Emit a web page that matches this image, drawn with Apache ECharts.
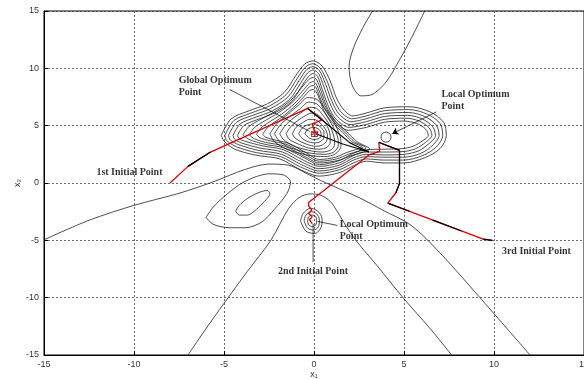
<!DOCTYPE html>
<html>
<head>
<meta charset="utf-8">
<script src="https://cdn.jsdelivr.net/npm/echarts@6/dist/echarts.min.js"></script>
<style>
html,body{margin:0;padding:0;background:#fff;}
#chart{width:584px;height:379px;}
</style>
</head>
<body>
<div id="chart"></div>
<script>
// axis ticks
var xTicks = [-15, -10, -5, 0, 5, 10, 15];
var yTicks = [-15, -10, -5, 0, 5, 10, 15];

// outer contours (both optima + upper lobe)
var g1 = [[-5.15,4.15],[-4.6,5.6],[-3.6,6.3],[-2.6,6.9],[-1.65,7.9],[-1.0,9.4],[-0.5,10.4],[-0.05,10.65],[0.45,10.2],[0.9,8.9],[1.25,7.4],[1.65,6.4],[2.15,5.85],[2.9,6.1],[3.9,6.55],[5.3,6.65],[6.45,6.2],[7.2,5.3],[7.35,4.15],[7.0,3.0],[6.15,2.2],[5.0,1.75],[3.9,1.75],[2.9,1.9],[2.2,1.5],[1.4,0.9],[0.3,0.6],[-0.8,1.2],[-1.9,2.1],[-3.3,2.45],[-4.4,2.95],[-5.0,3.65],[-5.15,4.15]];
var g2 = [[-4.95,4.15],[-4.45,5.45],[-3.5,6.1],[-2.5,6.7],[-1.55,7.7],[-0.9,9.2],[-0.45,10.15],[-0.05,10.4],[0.35,10.0],[0.75,8.8],[1.1,7.3],[1.5,6.2],[2.1,5.6],[2.9,5.85],[3.9,6.3],[5.3,6.4],[6.3,6.0],[7.0,5.2],[7.15,4.15],[6.8,3.15],[6.05,2.4],[5.0,2.0],[3.9,2.0],[2.9,2.1],[2.2,1.75],[1.4,1.15],[0.3,0.85],[-0.75,1.4],[-1.85,2.3],[-3.2,2.65],[-4.3,3.15],[-4.85,3.7],[-4.95,4.15]];
var g3 = [[-4.75,4.15],[-4.3,5.3],[-3.4,5.9],[-2.4,6.5],[-1.45,7.5],[-0.8,9.0],[-0.4,9.9],[-0.05,10.15],[0.3,9.8],[0.65,8.6],[1.0,7.1],[1.4,6.0],[2.05,5.35],[2.9,5.6],[3.9,6.05],[5.25,6.15],[6.15,5.8],[6.8,5.05],[6.95,4.15],[6.6,3.3],[5.95,2.6],[5.0,2.25],[3.9,2.25],[2.9,2.3],[2.2,2.0],[1.4,1.35],[0.3,1.05],[-0.7,1.6],[-1.8,2.5],[-3.1,2.85],[-4.2,3.35],[-4.65,3.75],[-4.75,4.15]];
var g4 = [[-4.5,4.15],[-4.1,5.15],[-3.3,5.7],[-2.3,6.3],[-1.35,7.3],[-0.75,8.7],[-0.35,9.6],[-0.05,9.85],[0.25,9.55],[0.55,8.4],[0.9,6.9],[1.3,5.8],[2.0,5.1],[2.9,5.35],[3.9,5.8],[5.2,5.9],[6.0,5.6],[6.6,4.9],[6.75,4.15],[6.4,3.45],[5.8,2.8],[5.0,2.5],[3.9,2.45],[2.9,2.5],[2.2,2.2],[1.4,1.55],[0.3,1.25],[-0.65,1.8],[-1.75,2.7],[-3.0,3.05],[-4.05,3.5],[-4.4,3.8],[-4.5,4.15]];
var g5 = [[-4.25,4.15],[-3.9,5.0],[-3.2,5.5],[-2.2,6.1],[-1.25,7.1],[-0.7,8.4],[-0.3,9.3],[-0.05,9.55],[0.2,9.3],[0.45,8.2],[0.8,6.7],[1.2,5.6],[1.95,4.85],[2.9,5.1],[3.9,5.55],[5.1,5.65],[5.85,5.4],[6.4,4.8],[6.55,4.15],[6.2,3.55],[5.65,3.0],[5.0,2.75],[3.9,2.7],[2.9,2.7],[2.2,2.4],[1.4,1.75],[0.3,1.45],[-0.6,2.0],[-1.7,2.9],[-2.9,3.25],[-3.85,3.65],[-4.15,3.85],[-4.25,4.15]];

// middle contours around the global optimum
var m1 = [[-3.95,4.2],[-3.6,4.95],[-2.9,5.6],[-2.1,6.3],[-1.3,7.2],[-0.7,8.3],[-0.3,9.0],[-0.05,9.2],[0.15,9.0],[0.4,8.0],[0.7,6.7],[1.15,5.5],[1.9,4.6],[2.9,4.85],[3.9,5.3],[5.0,5.4],[5.7,5.2],[6.2,4.7],[6.35,4.15],[6.0,3.65],[5.5,3.2],[4.9,3.0],[3.9,2.95],[2.9,2.9],[2.2,2.6],[1.4,1.95],[0.3,1.6],[-0.55,2.2],[-1.65,3.05],[-2.8,3.4],[-3.6,3.8],[-3.95,4.2]];
var m2 = [[-3.6,4.2],[-3.3,4.85],[-2.7,5.45],[-1.95,6.15],[-1.2,7.05],[-0.65,8.0],[-0.25,8.7],[-0.05,8.85],[0.1,8.7],[0.35,7.8],[0.65,6.6],[1.15,5.4],[1.8,4.5],[2.4,3.6],[3.1,2.95],[2.7,2.7],[2.0,2.35],[1.3,1.95],[0.3,1.75],[-0.5,2.3],[-1.6,3.2],[-2.7,3.55],[-3.3,3.85],[-3.6,4.2]];
var m3 = [[-3.2,4.25],[-2.95,4.8],[-2.45,5.35],[-1.8,6.0],[-1.1,6.9],[-0.6,7.75],[-0.25,8.4],[-0.05,8.5],[0.1,8.35],[0.3,7.6],[0.6,6.45],[1.1,5.35],[1.7,4.45],[2.25,3.6],[2.9,3.05],[2.5,2.8],[1.9,2.5],[1.25,2.1],[0.3,1.9],[-0.45,2.45],[-1.5,3.35],[-2.5,3.7],[-3.0,3.95],[-3.2,4.25]];
var m4 = [[-2.85,4.25],[-2.6,4.8],[-2.2,5.3],[-1.65,5.9],[-1.0,6.8],[-0.55,7.55],[-0.25,8.05],[-0.05,8.15],[0.1,8.0],[0.3,7.35],[0.55,6.3],[1.0,5.3],[1.6,4.4],[2.1,3.6],[2.7,3.1],[2.3,2.9],[1.8,2.65],[1.2,2.25],[0.3,2.05],[-0.4,2.6],[-1.4,3.45],[-2.3,3.8],[-2.7,4.0],[-2.85,4.25]];

// core contours
var c1 = [[-2.45,4.3],[-2.05,5.2],[-1.45,6.0],[-0.85,6.8],[-0.35,7.45],[0.15,7.3],[0.6,6.5],[1.1,5.3],[1.45,4.1],[1.5,3.2],[1.2,2.55],[0.6,2.3],[-0.4,2.45],[-1.5,2.95],[-2.2,3.6],[-2.45,4.3]];
var c2 = [[-2.2,4.3],[-1.85,5.1],[-1.3,5.85],[-0.75,6.5],[-0.3,7.05],[0.15,6.9],[0.55,6.2],[0.95,5.2],[1.3,4.1],[1.35,3.3],[1.1,2.7],[0.55,2.5],[-0.35,2.65],[-1.35,3.1],[-1.95,3.7],[-2.2,4.3]];
var c3 = [[-1.9,4.3],[-1.6,5.0],[-1.15,5.65],[-0.65,6.2],[-0.25,6.6],[0.15,6.5],[0.5,5.9],[0.85,5.1],[1.1,4.1],[1.15,3.4],[0.95,2.9],[0.45,2.7],[-0.3,2.85],[-1.15,3.25],[-1.7,3.8],[-1.9,4.3]];
var c4 = [[-1.55,4.3],[-1.3,4.9],[-0.9,5.45],[-0.5,5.85],[-0.15,6.1],[0.15,6.0],[0.45,5.6],[0.75,4.9],[0.9,4.1],[0.9,3.5],[0.7,3.1],[0.3,2.95],[-0.3,3.05],[-0.95,3.45],[-1.4,3.85],[-1.55,4.3]];
var c5 = [[-1.2,4.3],[-1.0,4.85],[-0.65,5.25],[-0.25,5.55],[0.1,5.5],[0.4,5.15],[0.65,4.65],[0.75,4.1],[0.7,3.65],[0.45,3.3],[0.1,3.2],[-0.35,3.35],[-0.85,3.7],[-1.1,4.0],[-1.2,4.3]];
var c6 = [[-0.85,4.3],[-0.65,4.8],[-0.3,5.1],[0.05,5.15],[0.35,4.9],[0.55,4.45],[0.55,4.0],[0.35,3.6],[0.0,3.5],[-0.4,3.65],[-0.7,3.95],[-0.85,4.3]];
var c7 = [[-0.5,4.3],[-0.35,4.7],[0.0,4.85],[0.3,4.65],[0.4,4.25],[0.3,3.9],[0.0,3.8],[-0.3,3.95],[-0.5,4.3]];
var c8 = [[-0.15,4.05],[-0.15,4.45],[0.2,4.45],[0.2,4.05],[-0.15,4.05]];

// small loop at the upper local optimum
var localLoop = [[3.72,4.0],[3.8,4.32],[4.0,4.44],[4.2,4.32],[4.28,4.0],[4.2,3.68],[4.0,3.56],[3.8,3.68],[3.72,4.0]];

// loops at the lower local optimum
var e1 = [[-0.75,-3.3],[-0.6,-2.65],[-0.2,-2.2],[0.2,-2.45],[0.45,-3.1],[0.4,-3.85],[0.05,-4.4],[-0.45,-4.2],[-0.75,-3.3]];
var e2 = [[-0.55,-3.3],[-0.45,-2.8],[-0.15,-2.5],[0.15,-2.7],[0.3,-3.2],[0.25,-3.8],[0.0,-4.1],[-0.35,-3.95],[-0.55,-3.3]];
var e3 = [[-0.35,-3.3],[-0.3,-2.95],[-0.1,-2.8],[0.1,-2.95],[0.15,-3.3],[0.1,-3.65],[-0.1,-3.8],[-0.3,-3.65],[-0.35,-3.3]];

// left valley loops
var leftOuter = [[-6.0,-3.0],[-5.6,-2.1],[-5.0,-1.2],[-4.2,-0.2],[-3.4,0.45],[-2.5,0.8],[-1.7,0.7],[-1.3,0.1],[-1.5,-0.9],[-2.2,-2.3],[-2.9,-3.4],[-3.8,-3.9],[-4.7,-3.9],[-5.6,-3.6],[-6.0,-3.0]];
var leftInner = [[-4.35,-2.45],[-4.15,-1.95],[-3.7,-1.35],[-3.1,-0.85],[-2.6,-0.65],[-2.45,-0.95],[-2.75,-1.6],[-3.2,-2.3],[-3.7,-2.8],[-4.15,-2.8],[-4.35,-2.45]];

// long open contours
var longCurve = [[-15,-4.95],[-12.5,-3.25],[-10,-1.95],[-7.5,-0.9],[-5.6,0.1],[-3.8,1.2],[-2.5,1.65],[-1.4,1.55],[-0.5,0.9],[0.4,0.2],[1.4,-0.5],[2.6,-1.35],[3.8,-2.35],[5.4,-3.7],[7.0,-6.1],[9.5,-10.5],[12.0,-15]];
var archCurve = [[-7.0,-15],[-6.0,-12.7],[-5.0,-10.5],[-3.7,-7.7],[-2.4,-5.0],[-1.4,-2.2],[-0.8,-1.25],[-0.2,-0.95],[0.35,-1.05],[0.9,-1.6],[1.3,-2.5],[1.8,-3.8],[2.4,-5.15],[3.5,-7.2],[5.0,-10.1],[6.4,-12.6],[7.65,-15]];
var upperLoop = [[3.25,15],[2.7,13.5],[2.2,11.8],[1.95,10.2],[2.1,8.6],[2.6,7.6],[3.2,7.7],[4.0,8.8],[4.7,10.6],[5.4,12.6],[6.15,15]];

// search paths
var path1 = [[-8.0,0.0],[-7.0,1.45],[-5.75,2.7],[-0.35,6.5],[0.45,5.5],[-0.1,5.15],[0.05,4.4]];
var path1Black = [[[-7.0,1.45],[-5.75,2.7]],[[-0.35,6.5],[0.45,5.5]]];
var path2 = [[-0.1,-3.55],[-0.25,-3.2],[-0.1,-2.95],[-0.3,-2.65],[-0.12,-2.35],[-0.3,-2.0],[-0.3,-1.7],[3.05,2.45],[3.65,2.75],[3.6,3.55]];
var path3 = [[9.9,-5.0],[9.4,-4.9],[4.1,-1.75],[4.55,-0.85],[4.75,-0.05],[4.75,2.85],[3.6,3.55]];
var path3Black = [[[9.9,-5.0],[9.4,-4.9]],[[8.2,-4.19],[6.6,-3.24]],[[5.3,-2.46],[4.1,-1.75]],[[4.55,-0.85],[4.75,-0.05],[4.75,2.85],[3.6,3.55]]];
var descent = [[[0.45,5.5],[2.0,3.5],[3.05,2.7]],[[0.1,4.3],[1.6,3.4],[3.05,2.7]]];
var globalOpt = [[0.05,4.35]];

// annotations
var noteText = ['Global Optimum\nPoint', 'Local Optimum\nPoint', '1st Initial Point', 'Local Optimum\nPoint', '2nd Initial Point', '3rd Initial Point'];
var notePos = [[-7.52,9.49],[7.08,8.26],[-12.09,1.46],[1.43,-3.05],[-2.0,-7.18],[10.44,-5.44]];
var pointerLines = [[[-4.68,8.15],[-0.24,4.5]],[[1.3,-3.7],[0.2,-3.35]],[[-0.05,-6.9],[-0.05,-3.55]]];
var arrowLine = [[6.8,6.2],[4.35,4.3]];

var chart = echarts.init(document.getElementById('chart'));
var series = [];

function addLine(data, color, width, z){
  series.push({
    type: 'line', data: data, showSymbol: false, smooth: false, silent: true,
    lineStyle: {color: color, width: width}, z: z
  });
}
function addContour(data){
  series.push({
    type: 'line', data: data, showSymbol: false, smooth: 0.3, silent: true,
    lineStyle: {color: '#111', width: 0.75}, z: 2
  });
}

[g1,g2,g3,g4,g5,m1,m2,m3,m4,c1,c2,c3,c4,c5,c6,c7,localLoop,e1,e2,e3,leftOuter,leftInner,longCurve,archCurve,upperLoop].forEach(addContour);
addLine(c8, '#111', 0.7, 2);

addLine(path1, '#e00000', 1.3, 5);
addLine(path2, '#e00000', 1.3, 5);
addLine(path3, '#e00000', 1.3, 5);
path1Black.concat(path3Black).concat(descent).forEach(function(seg){ addLine(seg, '#000', 1.2, 6); });
pointerLines.forEach(function(seg){ addLine(seg, '#000', 0.7, 6); });

series.push({
  type: 'line', data: [], silent: true,
  markLine: {
    silent: true, symbol: ['none', 'arrow'], symbolSize: 6, label: {show: false},
    lineStyle: {color: '#000', width: 0.7, type: 'solid'},
    data: [[{coord: arrowLine[0]}, {coord: arrowLine[1]}]]
  }
});

series.push({
  type: 'scatter', data: globalOpt, silent: true, z: 8,
  symbol: 'path://M5,0L5,10M0.7,2.5L9.3,7.5M0.7,7.5L9.3,2.5', symbolSize: 7,
  itemStyle: {color: 'rgba(0,0,0,0)', borderColor: '#e00000', borderWidth: 1.3}
});

series.push({
  type: 'scatter', symbolSize: 0, silent: true, z: 9,
  data: notePos.map(function(p, i){ return [p[0], p[1], noteText[i]]; }),
  label: {
    show: true, position: [0, 0], align: 'left', verticalAlign: 'top',
    formatter: function(p){ return p.value[2]; },
    fontFamily: 'Liberation Serif', fontWeight: 'bold', fontSize: 10, lineHeight: 12, color: '#000'
  }
});

var axisCommon = {
  type: 'value', min: -15, max: 15, interval: 5,
  axisLine: {show: true, onZero: false, lineStyle: {color: '#000', width: 1}},
  axisTick: {show: true, inside: true, length: 4, lineStyle: {color: '#000'}},
  axisLabel: {fontFamily: 'Liberation Sans', fontSize: 9, color: '#333', margin: 5},
  splitLine: {show: true, lineStyle: {color: '#444', width: 0.8, type: [2, 2]}},
  nameLocation: 'middle',
  nameMoveOverlap: false,
  nameTextStyle: {fontFamily: 'Liberation Sans', fontSize: 9, color: '#333'}
};

chart.setOption({
  animation: false,
  backgroundColor: '#fff',
  grid: {left: 44, right: 0, top: 11, bottom: 24, containLabel: false, outerBoundsMode: 'none', show: true, borderColor: '#000', borderWidth: 1},
  xAxis: Object.assign({}, axisCommon, {name: 'x₁', nameGap: 15}),
  yAxis: Object.assign({}, axisCommon, {name: 'x₂', nameGap: 22}),
  series: series
});
</script>
</body>
</html>
